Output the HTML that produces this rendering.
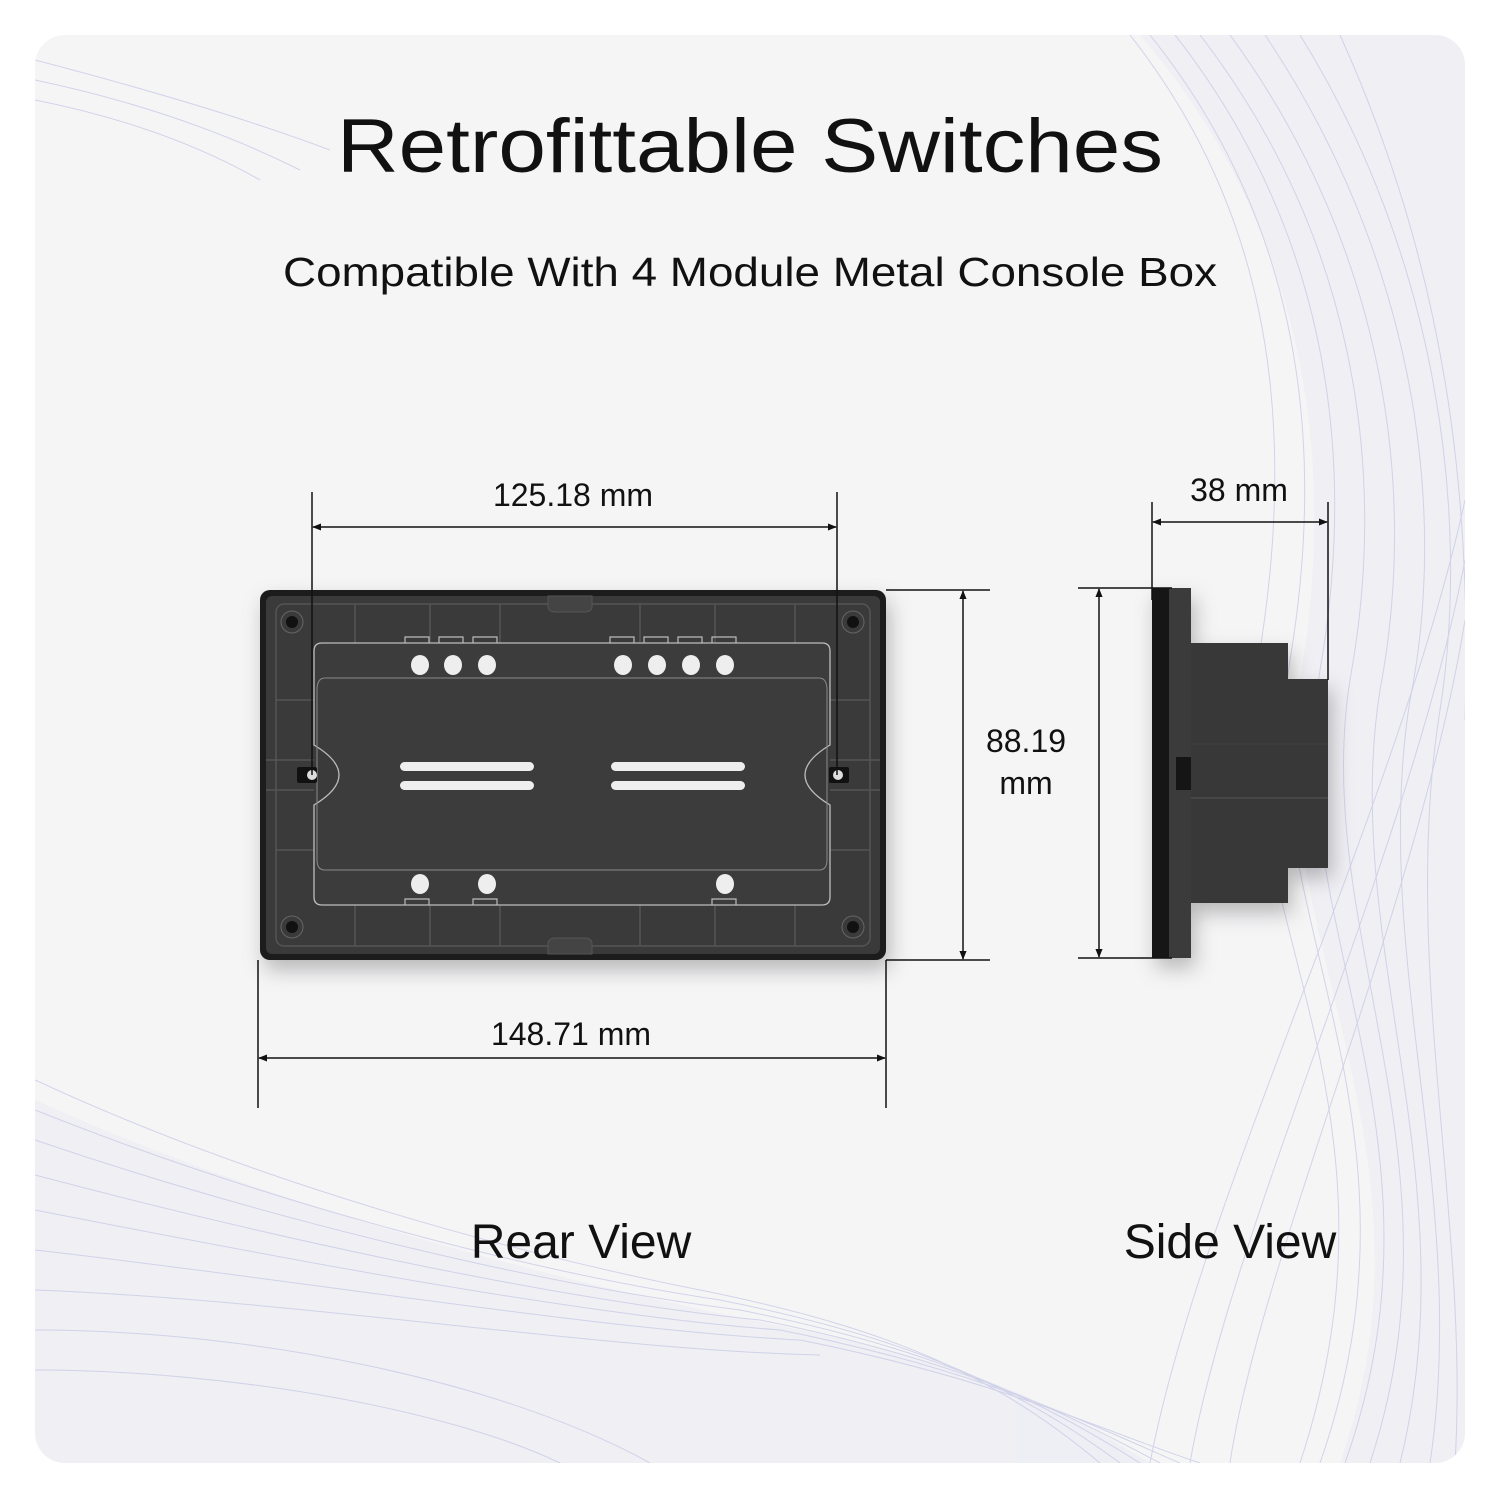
<!DOCTYPE html>
<html><head><meta charset="utf-8"><style>
html,body{margin:0;padding:0;background:#fff;}
svg{display:block;}
text{font-family:"Liberation Sans",sans-serif;fill:#111;}
</style></head><body>
<svg width="1500" height="1499" viewBox="0 0 1500 1499" xmlns="http://www.w3.org/2000/svg">
<defs>
<marker id="a" viewBox="0 0 10 10" refX="9" refY="5" markerWidth="9" markerHeight="9" orient="auto-start-reverse" markerUnits="userSpaceOnUse"><path d="M0,1 L10,5 L0,9 z" fill="#111"/></marker>
<clipPath id="card"><rect x="35" y="35" width="1430" height="1428" rx="30"/></clipPath>
<filter id="sh" x="-10%" y="-10%" width="130%" height="140%"><feDropShadow dx="4" dy="10" stdDeviation="10" flood-color="#000" flood-opacity="0.25"/></filter>
</defs>
<rect x="35" y="35" width="1430" height="1428" rx="30" fill="#f5f5f6"/>
<g clip-path="url(#card)" fill="#d7d9ee" opacity="0.2">
<path d="M1140,35 C1300,220 1340,450 1300,680 C1260,930 1450,1150 1340,1463 L1465,1463 L1465,35 Z"/>
<path d="M35,1100 C300,1220 600,1290 800,1330 C1000,1370 1080,1420 1150,1463 L35,1463 Z"/>
</g>
<g clip-path="url(#card)" fill="none" stroke="#c9cbe6" stroke-width="1" opacity="0.8">
<path d="M1130,35 C1260,200 1300,400 1260,650 C1220,900 1420,1100 1300,1463" />
<path d="M1150,35 C1290,210 1330,420 1290,660 C1250,910 1440,1120 1320,1463" />
<path d="M1175,35 C1320,220 1360,440 1320,670 C1280,920 1460,1140 1345,1463" />
<path d="M1200,35 C1350,230 1390,460 1350,680 C1310,930 1470,1160 1370,1463" />
<path d="M1230,35 C1380,240 1420,480 1380,690 C1340,940 1470,1180 1400,1463" />
<path d="M1265,35 C1410,250 1450,500 1410,700 C1370,950 1470,1200 1430,1463" />
<path d="M1300,35 C1440,260 1470,520 1440,710 C1400,960 1470,1220 1455,1463" />
<path d="M1340,35 C1460,300 1470,540 1465,720" />
<path d="M1465,500 C1400,800 1200,1200 1150,1463" />
<path d="M1465,560 C1410,850 1230,1230 1190,1463" />
<path d="M1465,620 C1420,900 1260,1260 1230,1463" />
<path d="M35,1080 C250,1180 500,1250 700,1290 C900,1330 1000,1380 1100,1463" />
<path d="M35,1110 C260,1200 520,1270 720,1300 C920,1340 1020,1390 1120,1463" />
<path d="M35,1140 C270,1220 540,1285 740,1310 C940,1350 1040,1400 1140,1463" />
<path d="M35,1175 C280,1240 560,1300 760,1320 C960,1360 1060,1410 1160,1463" />
<path d="M35,1210 C290,1260 580,1315 780,1330 C980,1370 1080,1420 1180,1463" />
<path d="M35,1250 C300,1280 600,1330 800,1340 C1000,1380 1100,1430 1200,1463" />
<path d="M35,1290 C300,1300 600,1350 820,1355" />
<path d="M35,1330 C250,1330 500,1380 650,1463" />
<path d="M35,1370 C230,1370 450,1410 560,1463" />
<path d="M35,60 C150,90 250,120 330,150" />
<path d="M35,80 C130,100 220,130 300,170" />
<path d="M35,100 C110,115 190,140 260,180" />
</g>

<text x="750" y="172" font-size="76" text-anchor="middle" textLength="826" lengthAdjust="spacingAndGlyphs">Retrofittable Switches</text>
<text x="750" y="286" font-size="41" text-anchor="middle" textLength="934" lengthAdjust="spacingAndGlyphs">Compatible With 4 Module Metal Console Box</text>

<!-- Rear view -->
<g filter="url(#sh)">
<rect x="260" y="590" width="626" height="370" rx="10" fill="#1c1c1c"/>
</g>
<rect x="266" y="596" width="614" height="358" rx="6" fill="#3a3a3a"/>
<g stroke="#555" stroke-width="1.5" fill="none">
<rect x="276" y="604" width="594" height="342" rx="8"/>
<line x1="355" y1="604" x2="355" y2="643"/><line x1="430" y1="604" x2="430" y2="643"/><line x1="500" y1="604" x2="500" y2="643"/>
<line x1="640" y1="604" x2="640" y2="643"/><line x1="715" y1="604" x2="715" y2="643"/><line x1="795" y1="604" x2="795" y2="643"/>
<line x1="355" y1="905" x2="355" y2="946"/><line x1="430" y1="905" x2="430" y2="946"/><line x1="500" y1="905" x2="500" y2="946"/>
<line x1="640" y1="905" x2="640" y2="946"/><line x1="715" y1="905" x2="715" y2="946"/><line x1="795" y1="905" x2="795" y2="946"/>
<line x1="276" y1="700" x2="314" y2="700"/><line x1="276" y1="850" x2="314" y2="850"/>
<line x1="830" y1="700" x2="870" y2="700"/><line x1="830" y1="850" x2="870" y2="850"/>
<line x1="266" y1="760" x2="314" y2="760"/><line x1="266" y1="790" x2="314" y2="790"/>
<line x1="830" y1="760" x2="880" y2="760"/><line x1="830" y1="790" x2="880" y2="790"/>
</g>
<path d="M548,596 L548,606 Q548,612 556,612 L584,612 Q592,612 592,606 L592,596 Z" fill="#444" stroke="#555"/>
<path d="M548,954 L548,944 Q548,938 556,938 L584,938 Q592,938 592,944 L592,954 Z" fill="#444" stroke="#555"/>
<path d="M322,643 L822,643 Q830,643 830,651 L830,745 Q805,760 805,775 Q805,790 830,805 L830,897 Q830,905 822,905 L322,905 Q314,905 314,897 L314,805 Q339,790 339,775 Q339,760 314,745 L314,651 Q314,643 322,643 Z" fill="#3c3c3c" stroke="#bdbdbd" stroke-width="1.3"/>
<path d="M325,678 L819,678 Q827,678 827,690 L827,860 Q827,870 819,870 L325,870 Q317,870 317,860 L317,690 Q317,678 325,678 Z" fill="none" stroke="#8a8a8a" stroke-width="1"/>
<g fill="none" stroke="#bbb" stroke-width="1.2">
<path d="M405,643 v-6 h24 v6 M439,643 v-6 h24 v6 M473,643 v-6 h24 v6 M610,643 v-6 h24 v6 M644,643 v-6 h24 v6 M678,643 v-6 h24 v6 M712,643 v-6 h24 v6"/>
<path d="M405,905 v-6 h24 v6 M473,905 v-6 h24 v6 M712,905 v-6 h24 v6"/>
</g>
<g fill="#eee">
<ellipse cx="420" cy="665" rx="9" ry="10"/><ellipse cx="453" cy="665" rx="9" ry="10"/><ellipse cx="487" cy="665" rx="9" ry="10"/>
<ellipse cx="623" cy="665" rx="9" ry="10"/><ellipse cx="657" cy="665" rx="9" ry="10"/><ellipse cx="691" cy="665" rx="9" ry="10"/><ellipse cx="725" cy="665" rx="9" ry="10"/>
<ellipse cx="420" cy="884" rx="9" ry="10"/><ellipse cx="487" cy="884" rx="9" ry="10"/><ellipse cx="725" cy="884" rx="9" ry="10"/>
<rect x="400" y="762" width="134" height="9" rx="4.5"/><rect x="400" y="781" width="134" height="9" rx="4.5"/>
<rect x="611" y="762" width="134" height="9" rx="4.5"/><rect x="611" y="781" width="134" height="9" rx="4.5"/>
</g>
<g fill="#111">
<circle cx="292" cy="622" r="6"/><circle cx="853" cy="622" r="6"/><circle cx="292" cy="927" r="6"/><circle cx="853" cy="927" r="6"/>
<rect x="297" y="767" width="20" height="16" rx="2"/><rect x="829" y="767" width="20" height="16" rx="2"/>
</g>
<g fill="none" stroke="#666"><circle cx="292" cy="622" r="11"/><circle cx="853" cy="622" r="11"/><circle cx="292" cy="927" r="11"/><circle cx="853" cy="927" r="11"/></g>
<circle cx="312" cy="775" r="5" fill="#ddd"/><circle cx="838" cy="775" r="5" fill="#ddd"/>

<!-- Rear dims -->
<g stroke="#111" stroke-width="1.5" fill="none">
<line x1="312" y1="492" x2="312" y2="775"/><line x1="837" y1="492" x2="837" y2="775"/>
<line x1="313" y1="527" x2="836" y2="527" marker-start="url(#a)" marker-end="url(#a)"/>
<line x1="886" y1="590" x2="990" y2="590"/><line x1="886" y1="960" x2="990" y2="960"/>
<line x1="963" y1="591" x2="963" y2="959" marker-start="url(#a)" marker-end="url(#a)"/>
<line x1="258" y1="960" x2="258" y2="1108"/><line x1="886" y1="960" x2="886" y2="1108"/>
<line x1="259" y1="1058" x2="885" y2="1058" marker-start="url(#a)" marker-end="url(#a)"/>
</g>
<text x="573" y="506" font-size="32" text-anchor="middle">125.18 mm</text>
<text x="1026" y="752" font-size="32" text-anchor="middle">88.19</text>
<text x="1026" y="794" font-size="32" text-anchor="middle">mm</text>
<text x="571" y="1045" font-size="32" text-anchor="middle">148.71 mm</text>

<!-- Side view -->
<g filter="url(#sh)">
<rect x="1191" y="643" width="97" height="260" fill="#383838"/>
<rect x="1288" y="679" width="40" height="189" fill="#383838"/>
<rect x="1169" y="588" width="22" height="370" fill="#3a3a3a"/>
<rect x="1152" y="588" width="17" height="370" fill="#151515"/>
</g>
<line x1="1191" y1="798" x2="1328" y2="798" stroke="#4a4a4a" stroke-width="1.5"/>
<line x1="1191" y1="744" x2="1328" y2="744" stroke="#3f3f3f" stroke-width="1"/>
<rect x="1176" y="757" width="15" height="33" fill="#151515"/>
<g stroke="#111" stroke-width="1.5" fill="none">
<line x1="1152" y1="502" x2="1152" y2="600"/><line x1="1328" y1="502" x2="1328" y2="680"/>
<line x1="1153" y1="522" x2="1327" y2="522" marker-start="url(#a)" marker-end="url(#a)"/>
<line x1="1078" y1="588" x2="1172" y2="588"/><line x1="1078" y1="958" x2="1172" y2="958"/>
<line x1="1099" y1="589" x2="1099" y2="957" marker-start="url(#a)" marker-end="url(#a)"/>
</g>
<text x="1239" y="501" font-size="32" text-anchor="middle">38 mm</text>

<text x="581" y="1258" font-size="48" text-anchor="middle">Rear View</text>
<text x="1230" y="1258" font-size="48" text-anchor="middle">Side View</text>
</svg>
</body></html>
